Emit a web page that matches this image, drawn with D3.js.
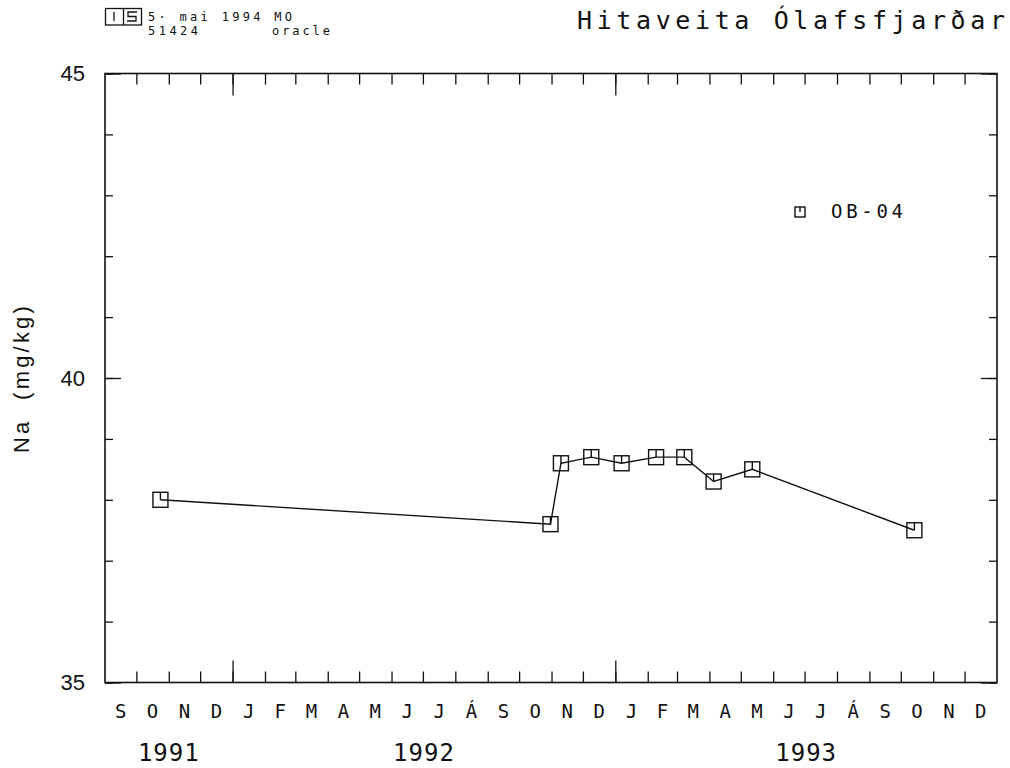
<!DOCTYPE html>
<html>
<head>
<meta charset="utf-8">
<script src="https://cdn.jsdelivr.net/npm/d3@7"></script>
<style>
  body { margin: 0; background: #fff; }
  svg { display: block; }
  .mono { font-family: "DejaVu Sans Mono", monospace; fill: #111; }
  .sans { font-family: "Liberation Sans", Arial, sans-serif; fill: #111; }
</style>
</head>
<body>
<script>
// sample dates and sodium values (mg/kg), well OB-04
var sampleDates = ["1991-10-24", "1992-10-31", "1992-11-10", "1992-12-09", "1993-01-07",
                   "1993-02-09", "1993-03-08", "1993-04-05", "1993-05-12", "1993-10-14"];
var naValues = [38.0, 37.6, 38.6, 38.7, 38.6, 38.7, 38.7, 38.3, 38.5, 37.5];

// axis labels
var monthLabels = ["S", "O", "N", "D",
                   "J", "F", "M", "A", "M", "J", "J", "Á", "S", "O", "N", "D",
                   "J", "F", "M", "A", "M", "J", "J", "Á", "S", "O", "N", "D"];
var yearLabels = ["1991", "1992", "1993"];
var yTickLabels = [35, 40, 45];
var seriesName = "OB-04";

var W = 1010, H = 768;
var box = { left: 105, right: 997, top: 73.5, bottom: 682.5 };

var parse = d3.timeParse("%Y-%m-%d");
var data = sampleDates.map(function(d, i){
    return { date: parse(d), na: naValues[i] };
});

var tStart = new Date(1991, 8, 1), tEnd = new Date(1994, 0, 1);

var xScale = d3.scaleTime().domain([tStart, tEnd]).range([box.left, box.right]);
var yScale = d3.scaleLinear().domain([35, 45]).range([box.bottom, box.top]);

var svg = d3.select("body").append("svg")
    .attr("width", W)
    .attr("height", H);

// header: logo + stamp
var logo = svg.append("g").attr("fill", "none").attr("stroke", "#111").attr("stroke-width", 1.3);
logo.append("rect").attr("x", 105.5).attr("y", 8.5).attr("width", 36).attr("height", 16.5);
logo.append("line").attr("x1", 123.5).attr("x2", 123.5).attr("y1", 8.5).attr("y2", 25);
logo.append("line").attr("x1", 114).attr("x2", 114).attr("y1", 12).attr("y2", 21);
logo.append("path").attr("d", "M137,12 H128 V16.5 H136 V21 H127");

svg.append("text").attr("class", "mono").attr("x", 148).attr("y", 20.5)
    .attr("font-size", 12).attr("textLength", 144).attr("lengthAdjust", "spacing")
    .text("5· mai 1994 MO");
svg.append("text").attr("class", "mono").attr("x", 148).attr("y", 35)
    .attr("font-size", 12).attr("textLength", 50).attr("lengthAdjust", "spacing")
    .text("51424");
svg.append("text").attr("class", "mono").attr("x", 272).attr("y", 35)
    .attr("font-size", 12).attr("textLength", 58).attr("lengthAdjust", "spacing")
    .text("oracle");

// title
svg.append("text").attr("class", "mono").attr("x", 577).attr("y", 28.5)
    .attr("font-size", 25).attr("textLength", 428).attr("lengthAdjust", "spacing")
    .text("Hitaveita Ólafsfjarðar");

// axes: ticks point inward on all four sides
var months = d3.timeMonth.range(tStart, tEnd).slice(1);
var yearTicks = d3.timeYear.range(tStart, tEnd);

function tickAxis(axis, translate){
    var g = svg.append("g")
        .attr("transform", translate)
        .call(axis);
    g.select(".domain").remove();
    g.selectAll(".tick line").attr("stroke", "#111").attr("stroke-width", 1.3);
    g.selectAll(".tick text").remove();
    return g;
}

tickAxis(d3.axisBottom(xScale).tickValues(months).tickSize(-11).tickFormat(""),
    "translate(0," + box.bottom + ")");
tickAxis(d3.axisBottom(xScale).tickValues(yearTicks).tickSize(-22).tickFormat(""),
    "translate(0," + box.bottom + ")");
tickAxis(d3.axisTop(xScale).tickValues(months).tickSize(-11).tickFormat(""),
    "translate(0," + box.top + ")");
tickAxis(d3.axisTop(xScale).tickValues(yearTicks).tickSize(-22).tickFormat(""),
    "translate(0," + box.top + ")");

var yMinor = d3.range(35, 46, 1);
tickAxis(d3.axisLeft(yScale).tickValues(yMinor).tickSize(-8),
    "translate(" + box.left + ",0)");
tickAxis(d3.axisLeft(yScale).tickValues(yTickLabels).tickSize(-16),
    "translate(" + box.left + ",0)");
tickAxis(d3.axisRight(yScale).tickValues(yMinor).tickSize(-8),
    "translate(" + box.right + ",0)");
tickAxis(d3.axisRight(yScale).tickValues(yTickLabels).tickSize(-16),
    "translate(" + box.right + ",0)");

// frame
svg.append("rect")
    .attr("x", box.left).attr("y", box.top)
    .attr("width", box.right - box.left).attr("height", box.bottom - box.top)
    .attr("fill", "none").attr("stroke", "#111").attr("stroke-width", 1.6);

// y tick labels
svg.selectAll(".ylab").data(yTickLabels).enter().append("text")
    .attr("class", "sans")
    .attr("x", 85)
    .attr("y", function(d){ return yScale(d); })
    .attr("dy", "0.36em")
    .attr("text-anchor", "end")
    .attr("font-size", 22)
    .text(function(d){ return d; });

// y axis title
svg.append("text").attr("class", "sans")
    .attr("transform", "translate(28.5," + ((box.top + box.bottom) / 2) + ") rotate(-90)")
    .attr("text-anchor", "middle")
    .attr("font-size", 22)
    .attr("letter-spacing", 3.2)
    .style("white-space", "pre")
    .text("Na  (mg/kg)");

// month labels centred in each month
var monthStarts = d3.timeMonth.range(tStart, tEnd);
svg.selectAll(".mlab").data(monthStarts).enter().append("text")
    .attr("class", "mono")
    .attr("x", function(d){ return (xScale(d) + xScale(d3.timeMonth.offset(d, 1))) / 2; })
    .attr("y", 717.5)
    .attr("text-anchor", "middle")
    .attr("font-size", 19)
    .text(function(d, i){ return monthLabels[i]; });

// year labels centred on the visible part of each year
var yearStarts = d3.timeYear.range(d3.timeYear.floor(tStart), tEnd);
svg.selectAll(".yrlab").data(yearStarts).enter().append("text")
    .attr("class", "mono")
    .attr("x", function(d){
        var a = d < tStart ? tStart : d;
        var b = d3.timeYear.offset(d, 1);
        if (b > tEnd) b = tEnd;
        return (xScale(a) + xScale(b)) / 2;
    })
    .attr("y", 760.5)
    .attr("text-anchor", "middle")
    .attr("font-size", 24)
    .attr("letter-spacing", 1)
    .text(function(d, i){ return yearLabels[i]; });

// data line
var line = d3.line()
    .x(function(d){ return xScale(d.date); })
    .y(function(d){ return yScale(d.na); });

svg.append("path")
    .datum(data)
    .attr("d", line)
    .attr("fill", "none")
    .attr("stroke", "#111")
    .attr("stroke-width", 1.4);

// square markers with a stroke from top edge to centre
function marker(g, s){
    g.append("rect")
        .attr("x", -s / 2).attr("y", -s / 2)
        .attr("width", s).attr("height", s)
        .attr("fill", "none").attr("stroke", "#111").attr("stroke-width", 1.4);
    g.append("line")
        .attr("x1", 0).attr("x2", 0).attr("y1", -s / 2).attr("y2", 0)
        .attr("stroke", "#111").attr("stroke-width", 1.4);
}

svg.selectAll(".pt").data(data).enter().append("g")
    .attr("transform", function(d){
        return "translate(" + xScale(d.date) + "," + yScale(d.na) + ")";
    })
    .each(function(){ marker(d3.select(this), 15); });

// legend
var leg = svg.append("g").attr("transform", "translate(800,212)");
marker(leg, 10);
svg.append("text").attr("class", "mono")
    .attr("x", 831).attr("y", 218)
    .attr("font-size", 19).attr("textLength", 72).attr("lengthAdjust", "spacing")
    .text(seriesName);
</script>
</body>
</html>
